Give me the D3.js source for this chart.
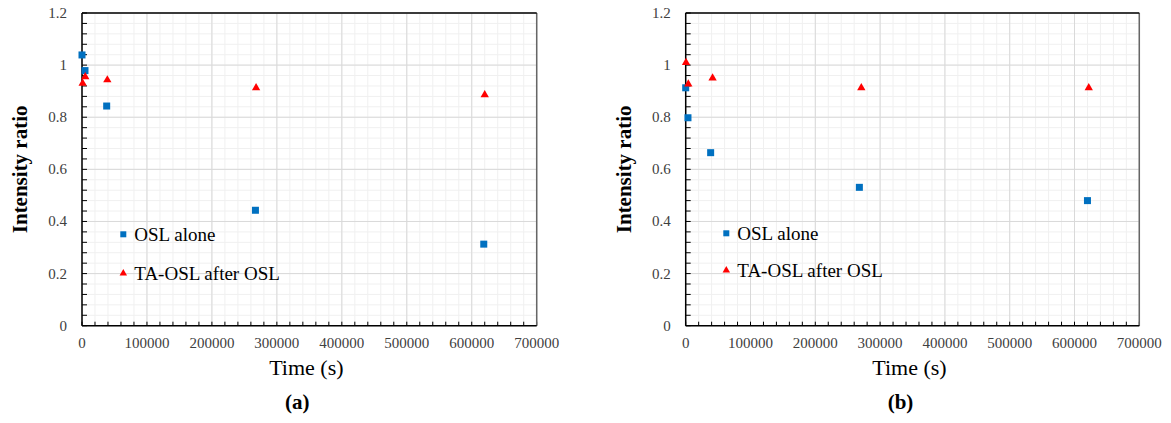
<!DOCTYPE html>
<html>
<head>
<meta charset="utf-8">
<script src="https://cdn.jsdelivr.net/npm/d3@7"></script>
<style>
  body { margin: 0; background: #fff; }
  svg { display: block; font-family: "Liberation Serif", "Times New Roman", serif; }
</style>
</head>
<body>
<div id="chart"></div>
<script>
// Data (time in s, intensity ratio)
const oslA_time = [0, 4600, 38000, 267000, 618500];
const oslA_ratio = [1.039, 0.979, 0.843, 0.443, 0.313];
const taA_time = [1000, 5000, 39000, 268000, 620000];
const taA_ratio = [0.93, 0.955, 0.943, 0.913, 0.886];

const oslB_time = [0, 3500, 38500, 268000, 620000];
const oslB_ratio = [0.913, 0.798, 0.664, 0.531, 0.48];
const taB_time = [500, 4000, 41500, 271000, 622000];
const taB_ratio = [1.01, 0.927, 0.95, 0.913, 0.913];

const xTicks = [0, 100000, 200000, 300000, 400000, 500000, 600000, 700000];
const yTicks = [0, 0.2, 0.4, 0.6, 0.8, 1, 1.2];
const legendNames = ['OSL alone', 'TA-OSL after OSL'];
const panelLabels = ['(a)', '(b)'];

const W = 1171, H = 423;
const svg = d3.select('#chart').append('svg').attr('width', W).attr('height', H);

function zip(xs, ys) { return xs.map((x, i) => ({ x: x, y: ys[i] })); }

function drawPanel(left, right, label, osl, ta, legPos) {
    const top = 13, bottom = 325.7;
    const x = d3.scaleLinear().domain([0, 700000]).range([left, right]);
    const y = d3.scaleLinear().domain([0, 1.2]).range([bottom, top]);
    const g = svg.append('g');

    // Minor gridlines
    const xMinor = d3.range(0, 700001, 20000);
    const yMinor = d3.range(0, 1.2001, 0.04);
    g.selectAll('.gxm').data(xMinor).enter().append('line')
        .attr('x1', d => x(d)).attr('x2', d => x(d))
        .attr('y1', top).attr('y2', bottom)
        .attr('stroke', '#f0f0f0').attr('stroke-width', 1);
    g.selectAll('.gym').data(yMinor).enter().append('line')
        .attr('x1', left).attr('x2', right)
        .attr('y1', d => y(d)).attr('y2', d => y(d))
        .attr('stroke', '#f0f0f0').attr('stroke-width', 1);

    // Major gridlines
    g.selectAll('.gx').data(xTicks).enter().append('line')
        .attr('x1', d => x(d)).attr('x2', d => x(d))
        .attr('y1', top).attr('y2', bottom)
        .attr('stroke', '#d9d9d9').attr('stroke-width', 1);
    g.selectAll('.gy').data(yTicks).enter().append('line')
        .attr('x1', left).attr('x2', right)
        .attr('y1', d => y(d)).attr('y2', d => y(d))
        .attr('stroke', '#d9d9d9').attr('stroke-width', 1);

    // Minor tick marks (inside)
    g.selectAll('.tx').data(xMinor).enter().append('line')
        .attr('x1', d => x(d)).attr('x2', d => x(d))
        .attr('y1', bottom).attr('y2', bottom - 4)
        .attr('stroke', '#000').attr('stroke-width', 1);
    g.selectAll('.ty').data(yMinor).enter().append('line')
        .attr('x1', left).attr('x2', left + 5)
        .attr('y1', d => y(d)).attr('y2', d => y(d))
        .attr('stroke', '#000').attr('stroke-width', 1);

    // Frame
    g.append('line').attr('x1', right).attr('x2', right).attr('y1', top).attr('y2', bottom)
        .attr('stroke', '#666').attr('stroke-width', 1.5);
    g.append('line').attr('x1', left).attr('x2', right).attr('y1', top).attr('y2', top)
        .attr('stroke', '#000').attr('stroke-width', 1.5);
    g.append('line').attr('x1', left).attr('x2', left).attr('y1', top).attr('y2', bottom)
        .attr('stroke', '#000').attr('stroke-width', 1.5);
    g.append('line').attr('x1', left).attr('x2', right).attr('y1', bottom).attr('y2', bottom)
        .attr('stroke', '#000').attr('stroke-width', 1.5);

    // Tick labels
    g.selectAll('.lx').data(xTicks).enter().append('text')
        .attr('x', d => x(d)).attr('y', 348)
        .attr('text-anchor', 'middle')
        .style('font-size', '15px').style('fill', '#404040')
        .text(d => d);
    g.selectAll('.ly').data(yTicks).enter().append('text')
        .attr('x', left - 15).attr('y', d => y(d) + 5)
        .attr('text-anchor', 'end')
        .style('font-size', '15px').style('fill', '#404040')
        .text(d => d);

    // Axis titles
    g.append('text')
        .attr('transform', `translate(${left - 55},${(top + bottom) / 2}) rotate(-90)`)
        .attr('text-anchor', 'middle')
        .style('font-size', '21px').style('font-weight', 'bold')
        .text('Intensity ratio');
    g.append('text')
        .attr('x', (left + right) / 2 - 3).attr('y', 375)
        .attr('text-anchor', 'middle')
        .style('font-size', '22px')
        .text('Time (s)');
    g.append('text')
        .attr('x', (left + right) / 2 - 12).attr('y', 409)
        .attr('text-anchor', 'middle')
        .style('font-size', '21px').style('font-weight', 'bold')
        .text(label);

    // Markers
    g.selectAll('.osl').data(osl).enter().append('rect')
        .attr('x', d => x(d.x) - 3.5).attr('y', d => y(d.y) - 3.5)
        .attr('width', 7).attr('height', 7)
        .attr('fill', '#0070C0');
    const tri = d3.symbol().type(d3.symbolTriangle).size(30);
    g.selectAll('.ta').data(ta).enter().append('path')
        .attr('transform', d => `translate(${x(d.x)},${y(d.y)})`)
        .attr('d', tri)
        .attr('fill', '#FF0000');

    // Legend
    const lg = g.append('g').attr('transform', `translate(${legPos[0]},${legPos[1]})`);
    lg.append('rect').attr('x', -3).attr('y', -3).attr('width', 6).attr('height', 6).attr('fill', '#0070C0');
    lg.append('text').attr('x', 11).attr('y', 6.5).style('font-size', '19px').text(legendNames[0]);
    const tri2 = d3.symbol().type(d3.symbolTriangle).size(24);
    lg.append('path').attr('transform', `translate(0,${legPos[2]})`).attr('d', tri2).attr('fill', '#FF0000');
    lg.append('text').attr('x', 11).attr('y', legPos[2] + 6.5).style('font-size', '19px').text(legendNames[1]);
}

drawPanel(82, 536.7, panelLabels[0], zip(oslA_time, oslA_ratio), zip(taA_time, taA_ratio), [123.3, 234.3, 39]);
drawPanel(685.7, 1139.3, panelLabels[1], zip(oslB_time, oslB_ratio), zip(taB_time, taB_ratio), [726.3, 233.3, 37]);
</script>
</body>
</html>
